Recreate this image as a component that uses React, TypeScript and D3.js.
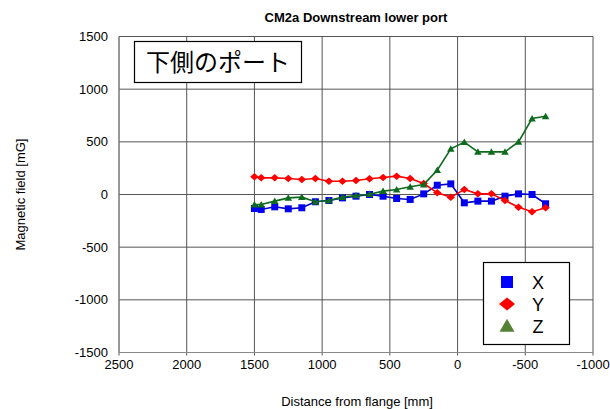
import React from 'react';
import * as d3 from 'd3';

const width = 610;
const height = 409;
const margin = {top: 36.5, right: 17, bottom: 56.5, left: 119};

// distance from flange [mm]
const positions = [1500, 1450, 1350, 1250, 1150, 1050, 950, 850, 750, 650, 550, 450, 350, 250, 150, 50, -50, -150, -250, -350, -450, -550, -650];
// magnetic field [mG]
const xValues = [-133, -142, -117, -136, -126, -69, -57, -32, -16, 0, -16, -38, -47, 6, 88, 101, -79, -63, -63, -16, 6, 0, -88];
const yValues = [168, 158, 158, 152, 142, 152, 126, 126, 133, 149, 161, 174, 152, 104, 16, -25, 47, 6, 6, -57, -120, -164, -126];
const zValues = [-95, -95, -63, -32, -25, -69, -57, -25, -9, 3, 32, 47, 73, 95, 231, 433, 497, 405, 405, 405, 500, 721, 743];

const xTicks = [2500, 2000, 1500, 1000, 500, 0, -500, -1000];
const yTicks = [1500, 1000, 500, 0, -500, -1000, -1500];

// marker shapes, w x h in px
const marker = (shape: string, w: number, h: number) => {
  const p = d3.path();
  if (shape === 'square') {
    p.rect(-w / 2, -h / 2, w, h);
  } else if (shape === 'diamond') {
    p.moveTo(0, -h / 2); p.lineTo(w / 2, 0); p.lineTo(0, h / 2); p.lineTo(-w / 2, 0); p.closePath();
  } else {
    p.moveTo(0, -h * 0.55); p.lineTo(w / 2, h * 0.45); p.lineTo(-w / 2, h * 0.45); p.closePath();
  }
  return p.toString();
};

const series = [
  {name: 'X', values: xValues, line: '#0000CC', fill: '#0000EE', legend: '#0000FF', shape: 'square', w: 7, h: 7},
  {name: 'Y', values: yValues, line: '#FF0000', fill: '#FF0000', legend: '#FF0000', shape: 'diamond', w: 8.5, h: 7.5},
  {name: 'Z', values: zValues, line: '#0E6B1E', fill: '#0E6B1E', legend: '#548235', shape: 'triangle', w: 7.5, h: 6.5},
];
const legendSize: Record<string, [number, number]> = {X: [12, 12], Y: [16, 13], Z: [15, 13]};

const font = '"Liberation Sans", Arial, sans-serif';

const App = () => {
  const xScale = d3.scaleLinear().domain([2500, -1000]).range([margin.left, width - margin.right]);
  const yScale = d3.scaleLinear().domain([-1500, 1500]).range([height - margin.bottom, margin.top]);
  const line = d3.line<[number, number]>().x(d => xScale(d[0])).y(d => yScale(d[1]));

  return (
    <svg width={width} height={height} style={{position: 'absolute', left: 0, top: 0, background: '#fff'}}>
      <rect x={0} y={0} width={width} height={height} fill='#fff' />
      {/* grid */}
      {xTicks.map(t => (
        <line key={'gx' + t} x1={xScale(t)} x2={xScale(t)} y1={margin.top} y2={height - margin.bottom + 3} stroke='#555' strokeWidth={1} />
      ))}
      {yTicks.map(t => (
        <line key={'gy' + t} x1={margin.left} x2={width - margin.right} y1={yScale(t)} y2={yScale(t)} stroke='#555' strokeWidth={1} />
      ))}
      <line x1={margin.left} x2={margin.left} y1={margin.top} y2={height - margin.bottom} stroke='#888' strokeWidth={1} />
      <line x1={margin.left} x2={width - margin.right} y1={height - margin.bottom} y2={height - margin.bottom} stroke='#888' strokeWidth={1} />

      {/* tick labels */}
      {yTicks.map(t => (
        <text key={'ty' + t} x={108} y={yScale(t) + 4.5} textAnchor='end' fontFamily={font} fontSize={13} fill='#000'>{t}</text>
      ))}
      {xTicks.map(t => (
        <text key={'tx' + t} x={xScale(t)} y={369} textAnchor='middle' fontFamily={font} fontSize={13} fill='#000'>{t}</text>
      ))}

      {/* titles */}
      <text x={356} y={22} textAnchor='middle' fontFamily={font} fontSize={13} fontWeight='bold'>CM2a Downstream lower port</text>
      <text x={357} y={406} textAnchor='middle' fontFamily={font} fontSize={13}>Distance from flange [mm]</text>
      <text transform={`translate(25, ${yScale(0)}) rotate(-90)`} textAnchor='middle' fontFamily={font} fontSize={13}>Magnetic field [mG]</text>

      {/* series */}
      {series.map(s => {
        const pts: [number, number][] = positions.map((p, i) => [p, s.values[i]]);
        return (
          <g key={s.name}>
            <path d={line(pts) || ''} fill='none' stroke={s.line} strokeWidth={1.6} />
            {pts.map((d, i) => (
              <path key={i} d={marker(s.shape, s.w, s.h)}
                transform={`translate(${xScale(d[0])},${yScale(d[1])})`} fill={s.fill} />
            ))}
          </g>
        );
      })}

      {/* japanese label */}
      <rect x={134.5} y={41.5} width={167} height={41} fill='#fff' stroke='#000' strokeWidth={1.2} />
      <text x={218} y={71} textAnchor='middle' fontFamily='"Noto Sans CJK JP", sans-serif' fontSize={24} fill='#000'>下側のポート</text>

      {/* legend */}
      <rect x={483.5} y={262.5} width={86} height={82} fill='#fff' stroke='#000' strokeWidth={1.2} />
      {series.map((s, i) => (
        <g key={'lg' + s.name} transform={`translate(0, ${282 + i * 22})`}>
          <path d={marker(s.shape, legendSize[s.name][0], legendSize[s.name][1])}
            transform='translate(507, 0)' fill={s.legend} />
          <text x={538} y={7} textAnchor='middle' fontFamily={font} fontSize={18} fill='#000'>{s.name}</text>
        </g>
      ))}
    </svg>
  );
};

export default App;
